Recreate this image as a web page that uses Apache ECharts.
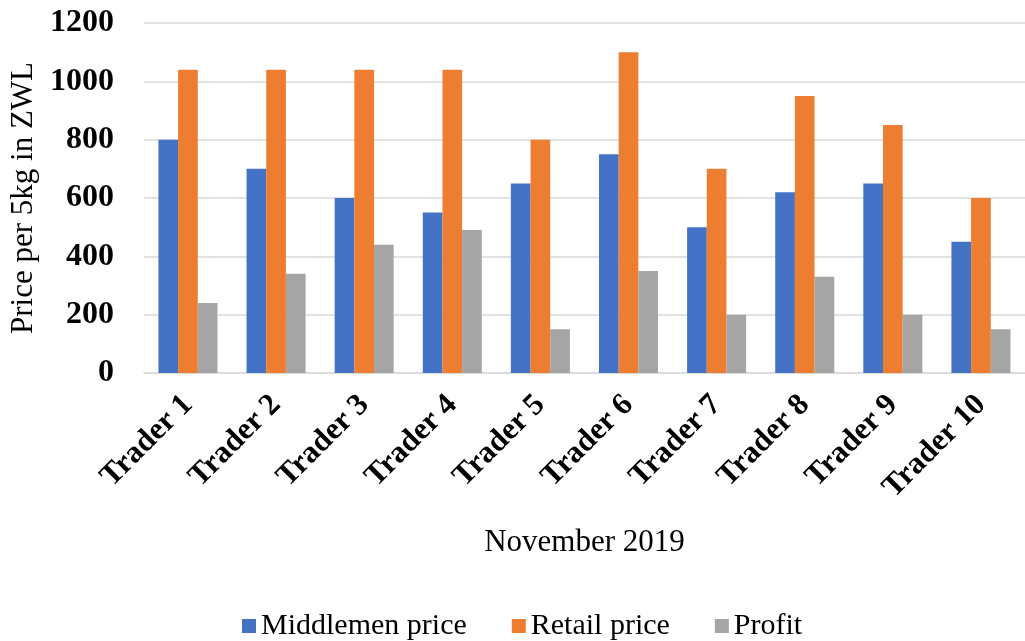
<!DOCTYPE html>
<html>
<head>
<meta charset="utf-8">
<script src="https://cdn.jsdelivr.net/npm/echarts@6/dist/echarts.min.js"></script>
<style>
  html, body { margin: 0; padding: 0; background: #fff; }
  #chart { width: 1025px; height: 641px; }
</style>
</head>
<body>
<div id="chart"></div>
<script>
// data
const traders = ["Trader 1", "Trader 2", "Trader 3", "Trader 4", "Trader 5",
  "Trader 6", "Trader 7", "Trader 8", "Trader 9", "Trader 10"];
const middlemenPrice = [800, 700, 600, 550, 650, 750, 500, 620, 650, 450];
const retailPrice = [1040, 1040, 1040, 1040, 800, 1100, 700, 950, 850, 600];
const profit = [240, 340, 440, 490, 150, 350, 200, 330, 200, 150];
const yTicks = [0, 200, 400, 600, 800, 1000, 1200];

const serif = '"Liberation Serif", "Times New Roman", serif';
const gridColor = "#d9d9d9";

let myChart = echarts.init(document.getElementById("chart"));

const option = {
  animation: false,
  color: ["#4472C4", "#ED7D31", "#A5A5A5"],
  textStyle: { fontFamily: serif, color: "#000" },
  grid: {
    left: 138,
    top: 23,
    width: 889,
    bottom: 268
  },
  legend: {
    left: 237,
    top: 606,
    icon: "rect",
    itemWidth: 14,
    itemHeight: 14,
    itemGap: 45,
    textStyle: { fontFamily: serif, fontSize: 30, color: "#000" },
    data: ["Middlemen price", "Retail price", "Profit"]
  },
  xAxis: {
    type: "category",
    data: traders,
    name: "November 2019",
    nameLocation: "middle",
    nameGap: 154,
    nameTextStyle: { fontFamily: serif, fontSize: 31, color: "#000" },
    axisLine: { lineStyle: { color: gridColor, width: 1.5 } },
    axisTick: { show: false },
    axisLabel: {
      rotate: 45,
      interval: 0,
      margin: 27,
      fontFamily: serif,
      fontWeight: "bold",
      fontSize: 31,
      color: "#000"
    }
  },
  yAxis: {
    type: "value",
    min: yTicks[0],
    max: yTicks[yTicks.length - 1],
    interval: 200,
    name: "Price per 5kg in ZWL",
    nameLocation: "middle",
    nameGap: 104,
    nameTextStyle: { fontFamily: serif, fontSize: 31, color: "#000" },
    axisLine: { show: false },
    axisTick: { show: false },
    axisLabel: {
      margin: 30,
      fontFamily: serif,
      fontWeight: "bold",
      fontSize: 32,
      color: "#000",
      formatter: (v) => String(v)
    },
    splitLine: { lineStyle: { color: gridColor, width: 1.5 } }
  },
  series: [
    { name: "Middlemen price", type: "bar", data: middlemenPrice, barGap: "0%", barCategoryGap: "33%" },
    { name: "Retail price", type: "bar", data: retailPrice, barGap: "0%", barCategoryGap: "33%" },
    { name: "Profit", type: "bar", data: profit, barGap: "0%", barCategoryGap: "33%" }
  ]
};

myChart.setOption(option);
</script>
</body>
</html>
